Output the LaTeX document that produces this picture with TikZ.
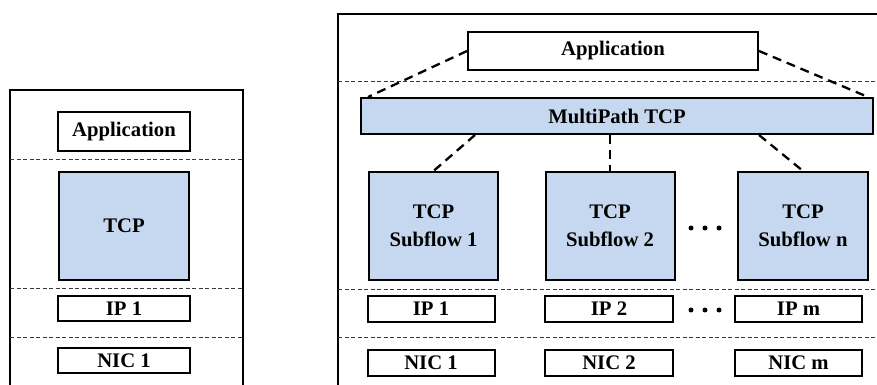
\documentclass[tikz,border=0pt]{standalone}
\usepackage{fontspec}
\setmainfont{Liberation Serif}
\usetikzlibrary{calc}
\definecolor{layerblue}{HTML}{C6D8F0}
\definecolor{sepgray}{HTML}{383838}
\begin{document}
\begin{tikzpicture}[x=1pt,y=-1pt,
  box/.style={draw=black,line width=2pt,fill=white,inner sep=0pt,
    font=\fontsize{20.7}{27.5}\selectfont\bfseries,align=center},
  bluebox/.style={box,fill=layerblue},
  stack/.style={draw=black,line width=2pt},
  layersep/.style={draw=sepgray,line width=1pt,dash pattern=on 4pt off 2.5pt},
  link/.style={draw=black,line width=2.3pt,dash pattern=on 9pt off 6pt}]
\useasboundingbox (0,0) rectangle (877,385);
\clip (0,0) rectangle (877,385);

% ---- single-path stack ----
\draw[stack] (10,400) -- (10,90) -- (243,90) -- (243,400);
\node[box,minimum width=132pt,minimum height=39pt] (lapp) at (124,131.5) {Application};
\draw[layersep] (10,159) -- (243,159);
\node[bluebox,minimum width=130pt,minimum height=108pt] (ltcp) at (124,226) {TCP};
\draw[layersep] (10,288) -- (243,288);
\node[box,minimum width=132pt,minimum height=25pt] (lip) at (124,308.5) {IP 1};
\draw[layersep] (10,337) -- (243,337);
\node[box,minimum width=132pt,minimum height=25pt] (lnic) at (124,360.5) {NIC 1};

% ---- multipath stack ----
\draw[stack] (338,400) -- (338,14) -- (900,14);
\draw[layersep] (338,82) -- (900,82);
\draw[layersep] (338,289) -- (900,289);
\draw[layersep] (338,337) -- (900,337);

\node[box,minimum width=290pt,minimum height=38pt] (rapp) at (613,51) {Application};
\node[bluebox,minimum width=512pt,minimum height=36pt] (mp) at (617,116) {MultiPath TCP};

\node[bluebox,minimum width=129pt,minimum height=108pt] (sf1) at (433.5,226) {TCP\\Subflow 1};
\node[bluebox,minimum width=129pt,minimum height=108pt] (sf2) at (610,226) {TCP\\Subflow 2};
\node[bluebox,minimum width=130pt,minimum height=108pt] (sfn) at (803,226) {TCP\\Subflow n};

\node[box,minimum width=127pt,minimum height=26pt] (ip1) at (431,309) {IP 1};
\node[box,minimum width=128pt,minimum height=26pt] (ip2) at (609,309) {IP 2};
\node[box,minimum width=127pt,minimum height=26pt] (ipm) at (798.5,309) {IP m};

\node[box,minimum width=127pt,minimum height=26pt] (nic1) at (431,363) {NIC 1};
\node[box,minimum width=128pt,minimum height=26pt] (nic2) at (609,363) {NIC 2};
\node[box,minimum width=127pt,minimum height=26pt] (nicm) at (798.5,363) {NIC m};

% ellipses between the subflows and between the addresses
\foreach \y in {228,310} {
  \foreach \dx in {-14,0,14}
    \fill (705+\dx,\y) circle (2.5pt);
}

% dashed links: application to MultiPath TCP, MultiPath TCP to subflows
\coordinate (mpl) at ($(mp.north west)+(8,0)$);
\coordinate (mpr) at ($(mp.north east)+(-6,0)$);
\draw[link] (rapp.west) -- (mpl);
\draw[link] (rapp.east) -- (mpr);
\coordinate (mpb1) at ($(mp.south)+(-142,0)$);
\coordinate (mpbn) at ($(mp.south)+(142,0)$);
\draw[link] (mpb1) -- (sf1.north);
\draw[link] (sf2.north |- mp.south) -- (sf2.north);
\draw[link] (mpbn) -- (sfn.north);
\end{tikzpicture}
\end{document}
